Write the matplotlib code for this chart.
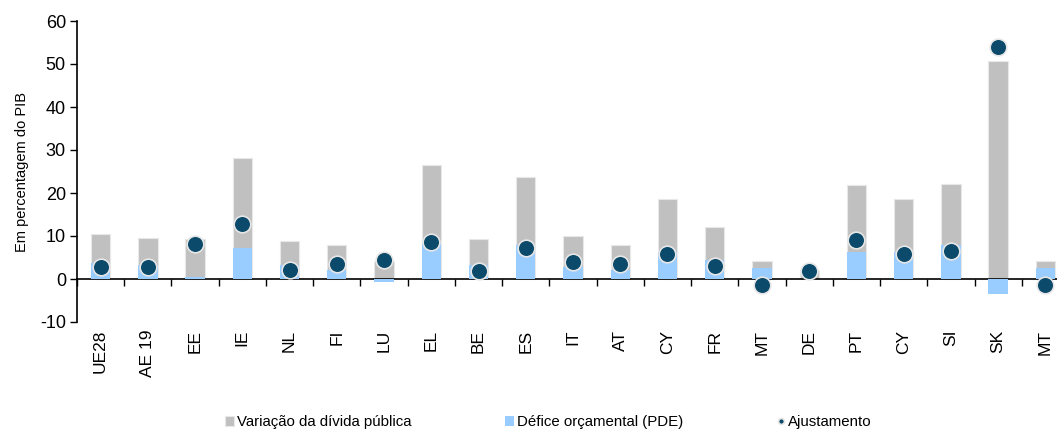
"""Debt change vs PDE deficit and adjustment, % of GDP."""

import matplotlib.pyplot as plt
import numpy as np

plt.rcParams["font.family"] = ["Liberation Sans", "DejaVu Sans"]
plt.rcParams["axes.unicode_minus"] = False

countries = ["UE28", "AE 19", "EE", "IE", "NL", "FI", "LU", "EL", "BE", "ES", "IT",
             "AT", "CY", "FR", "MT", "DE", "PT", "CY", "SI", "SK", "MT"]
debt_change = [10.5, 9.6, 9.2, 28.2, 8.8, 8.0, 4.1, 26.5, 9.2, 23.7, 10.0,
               8.0, 18.5, 12.0, 4.1, 2.2, 21.8, 18.6, 22.2, 50.7, 4.1]
deficit = [3.7, 3.3, 0.4, 7.3, 3.3, 2.2, -0.6, 8.4, 3.3, 8.0, 2.9,
           2.2, 6.2, 4.5, 2.5, 0.1, 6.2, 6.3, 7.9, -3.4, 2.5]
adjustment = [2.8, 2.7, 8.2, 12.9, 2.1, 3.4, 4.5, 8.7, 1.8, 7.3, 3.9,
              3.4, 5.7, 3.0, -1.5, 1.9, 9.0, 5.8, 6.6, 54.0, -1.5]

GRAY = "#c0c0c0"
BLUE = "#99ccff"
NAVY = "#0b4a6b"

fig = plt.figure(figsize=(10.57, 4.32), dpi=100)
ax = fig.add_axes([77 / 1057, 110 / 432, (1069 - 77) / 1057, 301 / 432])

x = np.arange(len(countries))
w = 0.41
b1 = ax.bar(x, debt_change, width=w, color=GRAY, edgecolor="#e8e8e8", linewidth=0.8,
            label="Variação da dívida pública", zorder=2)
b2 = ax.bar(x, deficit, width=w, color=BLUE, edgecolor="none",
            label="Défice orçamental (PDE)", zorder=3)
(dots,) = ax.plot(x, adjustment, "o", ms=12, color=NAVY, mec="#e6e6e6", mew=1.2,
                  label="Ajustamento", zorder=4)

ax.set_xlim(-0.5, len(countries) - 0.5)
ax.set_ylim(-10, 60)
ax.set_yticks(range(-10, 61, 10))
ax.tick_params(axis="y", direction="out", length=5, width=1, labelsize=13, pad=3)

for s in ["top", "right"]:
    ax.spines[s].set_visible(False)
ax.spines["left"].set_linewidth(1.2)
ax.spines["bottom"].set_position(("data", 0))
ax.spines["bottom"].set_linewidth(1.2)
ax.set_xticks(np.arange(len(countries) + 1) - 0.5)
ax.set_xticklabels([])
ax.tick_params(axis="x", direction="out", length=5, width=1)

for i, c in enumerate(countries):
    ax.text(i, -0.025, c, transform=ax.get_xaxis_transform(), rotation=90,
            ha="center", va="top", fontsize=12.5)

ax.set_ylabel("Em percentagem do PIB", fontsize=10.5, labelpad=8)

fig.legend([b1, b2, dots], [b1.get_label(), b2.get_label(), dots.get_label()],
           loc="center", bbox_to_anchor=(0.519, 0.023), ncol=3,
           frameon=False, fontsize=10.8, columnspacing=6.2, handlelength=0.6,
           handleheight=0.6, handletextpad=0.2, markerscale=0.35)

fig.savefig("out.png")
plt.close(fig)
